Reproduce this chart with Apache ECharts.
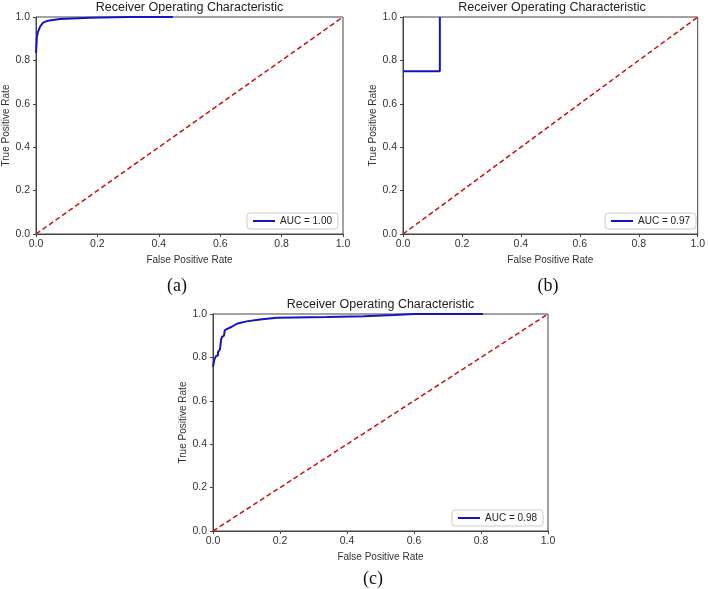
<!DOCTYPE html>
<html>
<head>
<meta charset="utf-8">
<title>ROC curves</title>
<script src="https://cdn.jsdelivr.net/npm/echarts@6/dist/echarts.min.js"></script>
<style>
html, body { margin: 0; padding: 0; background: #fff; }
#main { width: 708px; height: 589px; }
</style>
</head>
<body>
<div id="main"></div>
<script>
// ROC points, [fpr, tpr]
var rocA = [[0, 0.834], [0.003, 0.909], [0.0065, 0.932], [0.013, 0.955], [0.023, 0.974],
	[0.039, 0.983], [0.078, 0.991], [0.176, 0.996], [0.3, 1.0], [0.446, 1.0]];
var rocB = [[0, 0.75], [0.125, 0.75], [0.125, 1.0]];
var rocC = [[0, 0.757], [0.004, 0.757], [0.004, 0.79], [0.009, 0.806], [0.015, 0.81],
	[0.015, 0.825], [0.021, 0.838], [0.024, 0.845], [0.024, 0.88], [0.027, 0.895],
	[0.033, 0.9], [0.035, 0.925], [0.041, 0.93], [0.055, 0.94], [0.071, 0.955],
	[0.1, 0.966], [0.14, 0.975], [0.19, 0.983], [0.34, 0.986], [0.45, 0.99],
	[0.54, 0.995], [0.6, 1.0], [0.806, 1.0]];
var chance = [[0, 0], [1, 1]];
var aucNames = ['AUC = 1.00', 'AUC = 0.97', 'AUC = 0.98'];
var ticks = [0, 0.2, 0.4, 0.6, 0.8, 1.0];
var captions = ['(a)', '(b)', '(c)'];

var grids = [
	{left: 36, top: 17, width: 307, height: 217},
	{left: 403, top: 17, width: 298, height: 217},
	{left: 213, top: 314, width: 335, height: 217}
];
var yNameGap = [22, 22, 25];
var lineBlue = '#1414c4';
var lineRed = '#c81010';
var txt = '#333';
var font = 'Liberation Sans';

function axis(i, isX) {
	return {
		type: 'value', gridIndex: i, min: 0, max: 1, interval: 0.2,
		name: isX ? 'False Positive Rate' : 'True Positive Rate',
		nameLocation: 'middle', nameGap: isX ? 21 : yNameGap[i],
		nameTextStyle: {fontSize: 10, color: txt, fontFamily: font},
		axisLine: {show: true, lineStyle: {color: '#444', width: 1}},
		axisTick: {show: true, inside: false, length: 3, lineStyle: {color: '#444'}},
		axisLabel: {fontSize: 10.5, color: txt, fontFamily: font, margin: isX ? 5 : 6,
			formatter: function (v) { return v.toFixed(1); }},
		splitLine: {show: false}
	};
}

var xAxes = [], yAxes = [], series = [], titles = [], legends = [], graphics = [];
var rocs = [rocA, rocB, rocC];
for (var i = 0; i < 3; i++) {
	var g = grids[i];
	xAxes.push(axis(i, true));
	yAxes.push(axis(i, false));
	series.push({
		name: aucNames[i], type: 'line', xAxisIndex: i, yAxisIndex: i,
		data: rocs[i], showSymbol: false, symbol: 'none',
		lineStyle: {color: lineBlue, width: 2}, itemStyle: {color: lineBlue}
	});
	series.push({
		name: 'chance' + i, type: 'line', xAxisIndex: i, yAxisIndex: i,
		data: chance, showSymbol: false, symbol: 'none',
		lineStyle: {color: lineRed, width: 1.5, type: [5, 3]}
	});
	titles.push({
		text: 'Receiver Operating Characteristic',
		left: g.left + g.width / 2, top: g.top - 16, textAlign: 'center',
		padding: 0,
		textStyle: {fontSize: 12.5, fontWeight: 'normal', color: '#222', fontFamily: font}
	});
	legends.push({
		data: [{name: aucNames[i], icon: 'rect'}],
		right: 708 - (g.left + g.width) + 5, top: g.top + g.height - 21,
		itemWidth: 22, itemHeight: 2,
		backgroundColor: '#fff', borderColor: '#ccc', borderWidth: 1, borderRadius: 3,
		padding: [3, 6, 3, 6],
		textStyle: {fontSize: 10, color: '#222', fontFamily: font}
	});
}

// (a) (b) (c) captions under each panel
var capPos = [[177, 286], [548, 286], [373, 579]];
for (var k = 0; k < 3; k++) {
	graphics.push({
		type: 'text', x: capPos[k][0], y: capPos[k][1],
		style: {text: captions[k], font: '18px "Liberation Serif"', fill: '#111',
			textAlign: 'center', textVerticalAlign: 'middle'}
	});
}

var myChart = echarts.init(document.getElementById('main'));
var option = {
	animation: false,
	backgroundColor: '#fff',
	title: titles,
	legend: legends,
	grid: grids.map(function (g) {
		return {left: g.left, top: g.top, width: g.width, height: g.height,
			show: true, borderColor: '#444', borderWidth: 1, backgroundColor: 'transparent'};
	}),
	xAxis: xAxes,
	yAxis: yAxes,
	series: series,
	graphic: graphics
};
myChart.setOption(option);
</script>
</body>
</html>
